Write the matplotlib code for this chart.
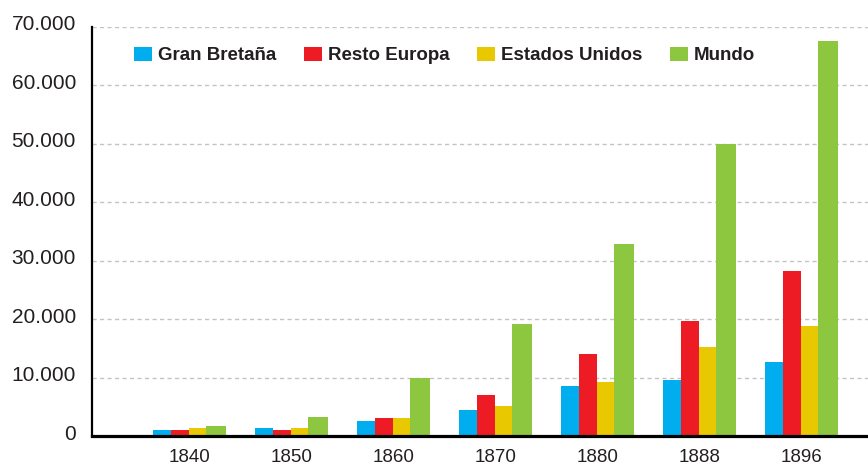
import matplotlib
matplotlib.use("Agg")
import matplotlib.pyplot as plt
import matplotlib.transforms as mtransforms
import numpy as np

years = ['1840', '1850', '1860', '1870', '1880', '1888', '1896']
gran_bretana = [1100, 1300, 2500, 4400, 8500, 9500, 12600]
resto_europa = [950, 950, 3050, 7100, 14000, 19700, 28250]
estados_unidos = [1300, 1300, 3150, 5200, 9200, 15200, 18800]
mundo = [1700, 3200, 9900, 19100, 32900, 50000, 67600]
series_labels = ['Gran Bretaña', 'Resto Europa', 'Estados Unidos', 'Mundo']
colors = ['#00AEEF', '#ED1C24', '#E8C800', '#8DC63F']
yticks = [0, 10000, 20000, 30000, 40000, 50000, 60000, 70000]
ytick_labels = ['0', '10.000', '20.000', '30.000', '40.000', '50.000', '60.000', '70.000']

W, H = 868, 465
fig = plt.figure(figsize=(W / 100, H / 100), dpi=100)
ax = fig.add_axes([92 / W, 1 - 436 / H, (W - 92) / W, (436 - 27) / H])

plt.rcParams['font.family'] = ['Liberation Sans', 'DejaVu Sans']
txt = '#231F20'

x = np.arange(len(years))
px = 1 / 102.0
lefts = [-36.5 * px, -18.5 * px, -0.5 * px, 16.5 * px]
widths = [18 * px, 18 * px, 17.5 * px, 20 * px]
data = [gran_bretana, resto_europa, estados_unidos, mundo]
for vals, l, w, c, lab in zip(data, lefts, widths, colors, series_labels):
    ax.bar(x + l, vals, width=w, align='edge', color=c, label=lab, zorder=2, linewidth=0)

ax.set_xlim(-0.956, 6.652)
ax.set_ylim(0, 70000)

for yv in yticks[1:]:
    ax.axhline(yv, color='#C4C4C4', lw=1.0, ls=(0, (3, 2.4)), zorder=1)
ax.axhline(0, color='black', lw=2.3, zorder=3, clip_on=False)

for s in ['top', 'right', 'bottom']:
    ax.spines[s].set_visible(False)
ax.spines['left'].set_linewidth(1.6)
ax.spines['left'].set_color('black')

ax.set_yticks(yticks)
ax.set_yticklabels(ytick_labels, fontsize=15, color=txt, family=['Liberation Sans', 'DejaVu Sans'])
ax.set_xticks(x)
ax.set_xticklabels(years, fontsize=13.5, color=txt, family=['Liberation Sans', 'DejaVu Sans'])
ax.tick_params(axis='both', length=0)
ax.tick_params(axis='y', pad=11.5)
ax.tick_params(axis='x', pad=9)

off = mtransforms.ScaledTranslation(0, 4 / 100, fig.dpi_scale_trans)
for lbl in ax.get_yticklabels():
    lbl.set_transform(lbl.get_transform() + off)

leg = ax.legend(loc='upper left', ncol=4, frameon=False, handlelength=0.96, handleheight=0.75,
                handletextpad=0.32, columnspacing=1.47, borderaxespad=0, borderpad=0,
                prop={'family': ['Liberation Sans', 'DejaVu Sans'], 'weight': 'bold', 'size': 13.5})
leg.set_bbox_to_anchor(((134 - 92) / (W - 92), 1 - (47 - 27) / (436 - 27)), transform=ax.transAxes)
for t in leg.get_texts():
    t.set_color(txt)

fig.savefig('out.png', dpi=100)
